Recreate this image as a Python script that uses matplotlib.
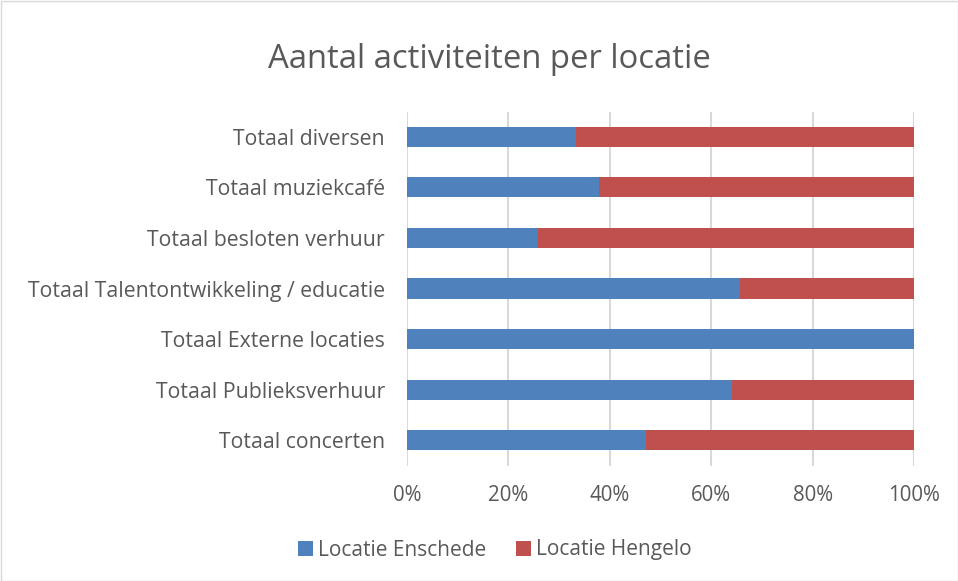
import matplotlib.pyplot as plt
import numpy as np
from matplotlib.patches import Rectangle

categories = ["Totaal concerten", "Totaal Publieksverhuur", "Totaal Externe locaties",
              "Totaal Talentontwikkeling / educatie", "Totaal besloten verhuur",
              "Totaal muziekcafé", "Totaal diversen"]
enschede = [47.1, 64.2, 100.0, 65.6, 25.8, 37.8, 33.3]
hengelo = [100 - v for v in enschede]
xticks = [0, 20, 40, 60, 80, 100]

blue = "#4f81bd"
red = "#c0504d"
grey = "#595959"

plt.rcParams['font.family'] = ['Open Sans', 'DejaVu Sans']

fig = plt.figure(figsize=(9.58, 5.81), dpi=100)
ax = fig.add_axes([407/958, 1 - 465.5/581, 507/958, 354/581])

y = np.arange(len(categories))
ax.barh(y, enschede, height=0.4, color=blue, label="Locatie Enschede")
ax.barh(y, hengelo, left=enschede, height=0.4, color=red, label="Locatie Hengelo")

ax.set_xlim(0, 100)
ax.set_ylim(-0.5, len(categories) - 0.5)
ax.set_xticks(xticks)
ax.set_xticklabels([f"{t}%" for t in xticks])
ax.set_yticks(y)
ax.set_yticklabels(categories)
ax.tick_params(axis="both", length=0, colors=grey)
ax.tick_params(axis="x", pad=14, labelsize=14.8)
ax.tick_params(axis="y", pad=16, labelsize=15.3)
ax.xaxis.grid(True, color="#d9d9d9", linewidth=1.5)
ax.set_axisbelow(True)
for s in ax.spines.values():
    s.set_visible(False)

fig.text(489.5/958, 1 - 60/581, "Aantal activiteiten per locatie", ha="center", va="center",
         fontsize=23.7, color=grey)

fig.legend(loc="center", bbox_to_anchor=(495/958, 1 - 550/581), ncol=2, frameon=False,
           fontsize=15, labelcolor=grey, handlelength=0.7, handleheight=0.7,
           handletextpad=0.25, columnspacing=1.45)

fig.patches.append(Rectangle((0.5/958, 0.5/581), 1 - 1/958, 1 - 1/581, transform=fig.transFigure,
                             fill=False, edgecolor="#d9d9d9", linewidth=1))

fig.savefig("out.png", dpi=100)
